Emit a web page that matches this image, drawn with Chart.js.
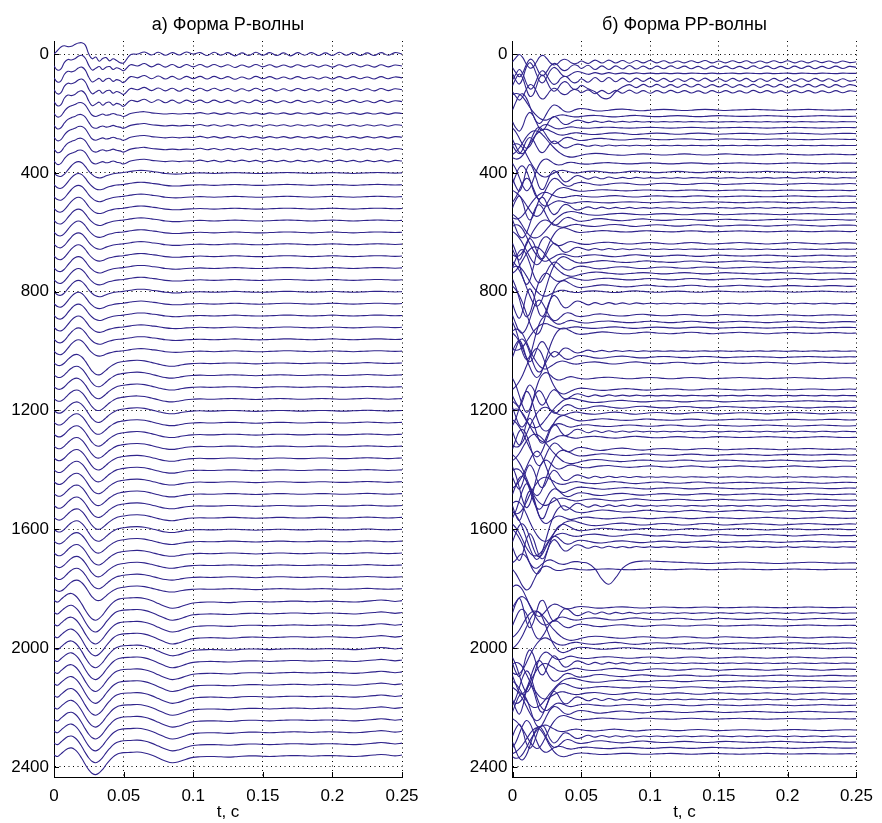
<!DOCTYPE html>
<html>
<head>
<meta charset="utf-8">
<script src="https://cdn.jsdelivr.net/npm/chart.js@4.4.0/dist/chart.umd.min.js"></script>
<style>
  body { margin: 0; background: #fff; }
  #wrap { position: relative; width: 882px; height: 823px; }
  .panel { position: absolute; top: 0; width: 441px; height: 823px; }
</style>
</head>
<body>
<div id="wrap">
  <div class="panel" style="left:0"><canvas id="pChart" width="441" height="823"></canvas></div>
  <div class="panel" style="left:441px"><canvas id="ppChart" width="441" height="823"></canvas></div>
</div>
<script>
// sample times, s
const timeSteps = [0, 0.0025, 0.005, 0.0075, 0.01, 0.0125, 0.015, 0.0175, 0.02, 0.0225, 0.025,
  0.0275, 0.03, 0.0325, 0.035, 0.0375, 0.04, 0.0425, 0.045, 0.0475, 0.05,
  0.055, 0.06, 0.065, 0.07, 0.075, 0.08, 0.085, 0.09, 0.095, 0.1,
  0.105, 0.11, 0.115, 0.12, 0.125, 0.13, 0.135, 0.14, 0.145, 0.15,
  0.155, 0.16, 0.165, 0.17, 0.175, 0.18, 0.185, 0.19, 0.195, 0.2,
  0.205, 0.21, 0.215, 0.22, 0.225, 0.23, 0.235, 0.24, 0.245, 0.25];

const xTickValues = [0, 0.05, 0.1, 0.15, 0.2, 0.25];
const xTickLabels = ['0', '0.05', '0.1', '0.15', '0.2', '0.25'];
const yTickValues = [0, 400, 800, 1200, 1600, 2000, 2400];
const yTickLabels = ['0', '400', '800', '1200', '1600', '2000', '2400'];

// а) P-wave: trace depths (m) and wave shapes (offset in m, + is down)
const pDepths = [0, 40, 80, 120, 160, 200, 240, 280, 320, 360, 400, 440, 480, 520, 560, 600,
  640, 680, 720, 760, 800, 840, 880, 920, 960, 1000, 1040, 1080, 1120, 1160, 1200,
  1240, 1280, 1320, 1360, 1400, 1440, 1480, 1520, 1560, 1600, 1640, 1680, 1720, 1760,
  1800, 1840, 1880, 1920, 1960, 2000, 2040, 2080, 2120, 2160, 2200, 2240, 2280, 2320, 2360];
const pShapeIdx = [0, 1, 1, 1, 1, 2, 2, 2, 2, 2, 3, 3, 3, 3, 3, 3, 3, 3, 3, 3, 3, 3, 3, 3, 3, 3,
  4, 4, 4, 4, 4, 4, 4, 4, 4, 4, 4, 4, 4, 4, 4, 4, 4, 4, 4, 4, 5, 5, 5, 5, 5, 5, 5, 5, 5, 5, 5, 5, 5, 5];

const pShape0 = [0, -12, -24, -28, -25, -26, -32, -37, -38, -30, 0, 16, 10, 24, 15, 12, 23, 16, 22, 29, 30,
  2, 0, -7, 3, -6, 4, -5, 3, -7, 0,
  -5, 5, -6, 4, -5, 6, -4, 5, -6, 4, -5, 5, -4, 6, -5, 4, -5, 5, -4, 5, -6, 4, -5, 5, -4, 5, -5, 4, -5, 0];
const pShape1 = [0, 14, 10, -12, -22, -20, -24, -33, -36, -26, -2, 14, 8, 2, 12, 4, 2, 12, 6, 10, 16,
  -4, 0, -8, 3, -6, 4, -5, 5, -5, 3,
  -5, 4, -5, 3, -4, 5, -3, 4, -5, 3, -4, 4, -3, 4, -4, 3, -3, 4, -3, 4, -4, 3, -4, 3, -3, 4, -4, 3, -3, 0];
const pShape2 = [0, 12, 8, -8, -20, -26, -30, -36, -36, -28, -10, 6, 10, 6, 2, 6, 4, 0, 4, 6, 10,
  0, -4, -6, -2, 0, 2, 0, 2, 0, 1,
  -3, 2, -2, 3, -2, 2, -3, 2, -2, 3, -2, 2, -2, 3, -2, 2, -2, 3, -2, 2, -3, 2, -2, 3, -2, 2, -2, 3, -2, 0];
const pShape3 = [0, 10, 12, 4, -10, -24, -34, -38, -34, -22, -6, 6, 14, 17, 15, 10, 6, 3, 1, 0, -1,
  -5, -8, -8, -5, -2, 2, 4, 4, 2, 1,
  0, 1, 2, 1, 0, -1, 0, 1, 2, 2, 1, 0, -1, -1, 0, 1, 2, 1, 0, -1, 0, 1, 2, 1, 0, -1, -1, 0, 1, 0];
const pShape4 = [0, 8, 8, 0, -12, -22, -28, -28, -20, -6, 12, 28, 38, 40, 34, 24, 14, 6, 0, -3, -5,
  -8, -9, -7, -2, 4, 9, 11, 8, 4, 2,
  1, 2, 2, 1, 0, 0, 1, 2, 3, 2, 1, 0, 0, 1, 2, 2, 1, 0, 0, 1, 2, 2, 1, 0, -1, 0, 1, 2, 1, 0];
const pShape5 = [0, 5, -4, -14, -22, -24, -18, -6, 12, 32, 50, 62, 66, 60, 48, 32, 18, 6, -2, -6, -8,
  -9, -10, -7, 0, 10, 20, 26, 22, 14, 8,
  6, 5, 5, 6, 7, 6, 4, 3, 3, 4, 5, 4, 3, 2, 2, 3, 4, 3, 2, 2, 3, 4, 5, 4, 2, 0, -2, 0, 3, 0];
const pShapes = [pShape0, pShape1, pShape2, pShape3, pShape4, pShape5];

// б) PP-wave: trace depths (m), shape used, signed gain
const ppDepths = [26, 45, 65, 87, 107, 127, 188, 209, 228, 248, 268, 287, 308, 338, 368, 397, 417,
  437, 459, 479, 499, 518, 539, 558, 577, 597, 637, 657, 679, 699, 719, 738, 758, 781, 800,
  840, 879, 902, 921, 939, 1000, 1020, 1040, 1091, 1129, 1150, 1169, 1189, 1209, 1231, 1251,
  1271, 1290, 1330, 1349, 1369, 1389, 1424, 1443, 1462, 1482, 1501, 1521, 1539, 1562, 1583,
  1600, 1620, 1642, 1660, 1713, 1735, 1863, 1882, 1902, 1924, 1964, 1984, 2001, 2032, 2051,
  2072, 2093, 2111, 2132, 2153, 2173, 2192, 2215, 2238, 2276, 2297, 2316, 2336, 2356];
const ppShapeIdx = [0, 0, 6, 0, 8, 0, 2, 3, 6, 1, 3, 2, 6, 4, 1, 3, 6, 2, 7, 3, 1, 6, 4, 2, 3, 7,
  1, 6, 3, 7, 2, 4, 1, 7, 3, 6, 2, 1, 3, 7, 6, 2, 3, 1, 7, 6, 4, 2, 3, 7, 1, 6, 3, 2, 7, 4, 1,
  6, 3, 7, 2, 3, 6, 7, 1, 4, 7, 3, 2, 6, 5, 1, 2, 6, 3, 2, 4, 3, 7, 1, 6, 3, 2, 4, 7, 3, 6, 1, 2, 7,
  3, 6, 2, 1, 7];
const ppGains = [0.7, -0.9, 0.8, 1.0, 1.0, -0.8, 0.9, -0.8, 0.7, 0.6, 0.9, -0.8, 0.6, -0.9, 0.8, -1.0,
  1.0, 1.0, 0.7, 0.8, -0.7, -0.9, 0.9, -1.0, 1.1, 0.9, 1.2, 0.8, -1.1, 1.2, 1.0, -1.0, 1.1, 1.3, -0.9,
  1.1, -1.0, 1.1, 0.8, 1.2, -0.8, 1.0, -1.2, 1.0, -1.1, 0.8, 1.0, -1.1, 1.2, 1.0, -1.0, 1.0, -1.0,
  1.1, 1.1, -1.0, 1.2, 0.9, 1.1, -1.0, 1.0, -1.1, 1.1, 1.3, -1.0, 1.2, 1.2, -1.2, 1.0, 1.0, 1.0, 0.6,
  0.6, -1.1, -1.2, 0.9, -1.0, 1.1, -1.0, 1.0, 1.0, 1.2, -1.0, 1.0, 0.9, -1.1, 1.1, -1.0, 1.0, 0.8,
  1.0, -0.9, -1.0, -0.8, -0.7];

const ppShape0 = [0, -20, -35, -20, 10, 30, 25, 0, -25, -30, -15, 5, 15, 10, -5, -12, -8, 4, 10, 6, -4,
  8, -8, 6, -8, 6, -6, 7, -6, 5, -6,
  5, -5, 6, -4, 5, -5, 4, -6, 5, -4, 5, -5, 4, -5, 6, -4, 5, -5, 4, -5, 5, -4, 5, -5, 4, -4, 5, -4, 4, 0];
const ppShape1 = [0, 25, 60, 95, 115, 105, 70, 30, 0, -15, -18, -10, 0, 6, 6, 2, -3, -5, -3, 0, 2,
  3, 0, -2, -3, -1, 1, 2, 1, -1, -2,
  -1, 1, 2, 1, -1, -2, -1, 1, 2, 1, 0, -1, -2, -1, 0, 1, 2, 1, 0, -1, -2, -1, 0, 1, 2, 1, 0, -1, -1, 0];
const ppShape2 = [0, -30, -55, -60, -45, -15, 20, 45, 50, 35, 12, -8, -18, -16, -6, 4, 8, 6, 0, -4, -5,
  -2, 3, 4, 1, -2, -3, -1, 2, 3, 1,
  -1, -2, -1, 1, 2, 1, -1, -2, -1, 1, 2, 1, 0, -1, -2, -1, 0, 1, 2, 1, 0, -1, -2, -1, 0, 1, 1, 0, -1, 0];
const ppShape3 = [90, 95, 92, 80, 60, 38, 18, 2, -10, -16, -16, -10, -4, 2, 5, 5, 2, -1, -3, -3, -1,
  2, 3, 1, -2, -3, -1, 2, 3, 1, -1,
  -2, -1, 1, 2, 1, -1, -2, -1, 1, 2, 1, 0, -1, -1, 0, 1, 2, 1, 0, -1, -2, -1, 0, 1, 2, 1, 0, -1, -1, 0];
const ppShape4 = [0, 10, 25, 45, 65, 80, 88, 88, 82, 70, 55, 40, 26, 14, 4, -4, -8, -10, -9, -6, -3,
  2, 4, 3, 0, -2, -3, -1, 1, 2, 1,
  -1, -2, -1, 1, 2, 1, -1, -2, -1, 1, 2, 1, 0, -1, -2, -1, 0, 1, 2, 1, 0, -1, -2, -1, 0, 1, 1, 0, -1, 0];
const ppShape5 = [0, -10, -25, -30, -20, 0, 15, 18, 10, 0, -8, -10, -6, 0, 4, 5, 2, -2, -4, -4, -2,
  2, 20, 55, 72, 50, 18, 2, -4, -6, -6,
  -5, -4, -3, -2, -1, 0, 1, 2, 2, 1, 0, -1, -2, -2, -1, 0, 1, 2, 2, 1, 0, -1, -2, -2, -1, 0, 1, 1, 0, 0];
const ppShape6 = [0, 30, 45, 20, -25, -45, -30, 5, 35, 38, 15, -12, -25, -18, 0, 12, 12, 4, -5, -8, -5,
  4, -3, 3, -3, 2, -2, 2, -2, 1, -1,
  1, -1, 1, -1, 1, -1, 0, 1, -1, 1, 0, -1, 1, -1, 0, 1, -1, 1, 0, -1, 1, -1, 0, 1, -1, 0, 1, -1, 0, 0];
const ppShape7 = [0, 10, 25, 45, 70, 95, 115, 125, 118, 95, 65, 35, 12, -4, -12, -14, -10, -5, 0, 3, 4,
  2, -1, -3, -2, 0, 2, 2, 0, -2, -2,
  0, 1, 2, 1, -1, -2, -1, 1, 2, 1, 0, -1, -2, -1, 0, 1, 2, 1, 0, -1, -1, 0, 1, 1, 0, -1, -1, 0, 1, 0];
const ppShape8 = [0, -25, -40, -25, 10, 35, 30, 0, -30, -35, -15, 8, 18, 12, -5, -14, -10, 4, 12, 8, -2,
  10, 20, 40, 42, 20, 4, -4, 6, -5, 4,
  -5, 5, -4, 5, -5, 4, -5, 5, -4, 4, -5, 5, -4, 4, -5, 5, -4, 4, -5, 5, -4, 4, -5, 4, -4, 5, -4, 4, -4, 0];
const ppShapes = [ppShape0, ppShape1, ppShape2, ppShape3, ppShape4, ppShape5, ppShape6, ppShape7, ppShape8];

const lineColor = 'rgb(48, 36, 140)';
const fontFamily = '"Liberation Sans", Arial, sans-serif';

// one dataset per trace: depth + gain * shape
function buildTraces(depths, shapeIdx, gains, shapes) {
  return depths.map((d, k) => {
    const shape = shapes[shapeIdx[k]];
    const g = gains ? gains[k] : 1;
    return {
      data: timeSteps.map((t, i) => ({ x: t, y: d + g * shape[i] })),
      borderColor: lineColor,
      borderWidth: 1.1,
      pointRadius: 0,
      tension: 0.4,
      fill: false
    };
  });
}

// matlab style tick marks pointing into the plot
const innerTicks = {
  id: 'innerTicks',
  afterDraw(chart) {
    const { ctx, chartArea: a, scales: { x, y } } = chart;
    ctx.save();
    ctx.strokeStyle = '#000';
    ctx.lineWidth = 1;
    ctx.beginPath();
    xTickValues.forEach(v => {
      const px = Math.round(x.getPixelForValue(v)) + 0.5;
      ctx.moveTo(px, a.bottom);
      ctx.lineTo(px, a.bottom - 5);
    });
    yTickValues.forEach(v => {
      const py = Math.round(y.getPixelForValue(v)) + 0.5;
      ctx.moveTo(a.left, py);
      ctx.lineTo(a.left + 5, py);
    });
    ctx.stroke();
    ctx.restore();
  }
};

function makeOptions(title, padLeft, padRight) {
  const tickFont = { family: fontFamily, size: 17 };
  return {
    responsive: false,
    animation: false,
    devicePixelRatio: 1,
    layout: { padding: { left: padLeft, right: padRight, top: 0, bottom: 0 } },
    plugins: {
      legend: { display: false },
      tooltip: { enabled: false },
      title: {
        display: true, text: title, fullSize: false, color: '#000',
        font: { family: fontFamily, size: 18, weight: 'normal' },
        padding: { top: 14.2, bottom: 5.2 }
      }
    },
    scales: {
      x: {
        type: 'linear', min: 0, max: 0.25,
        afterBuildTicks: s => { s.ticks = xTickValues.map(v => ({ value: v })); },
        afterFit: s => { s.height = 46; },
        ticks: {
          color: '#000', font: tickFont, padding: 9, maxRotation: 0, autoSkip: false,
          callback: v => xTickLabels[xTickValues.indexOf(v)]
        },
        grid: { color: '#000', lineWidth: 1, drawTicks: false },
        border: { display: true, color: '#000', width: 1, dash: [1, 3.5] },
        title: { display: true, text: 't, c', color: '#000', font: tickFont, padding: { top: 0, bottom: 0 } }
      },
      y: {
        type: 'linear', reverse: true, min: -44, max: 2434,
        afterBuildTicks: s => { s.ticks = yTickValues.map(v => ({ value: v })); },
        afterFit: s => { s.width = 44; },
        ticks: {
          color: '#000', font: tickFont, padding: 5, autoSkip: false,
          callback: v => yTickLabels[yTickValues.indexOf(v)]
        },
        grid: { color: '#000', lineWidth: 1, drawTicks: false },
        border: { display: true, color: '#000', width: 1, dash: [1, 3.5] }
      }
    }
  };
}

new Chart(document.getElementById('pChart'), {
  type: 'line',
  data: { datasets: buildTraces(pDepths, pShapeIdx, null, pShapes) },
  options: makeOptions('а) Форма Р-волны', 10, 39),
  plugins: [innerTicks]
});

new Chart(document.getElementById('ppChart'), {
  type: 'line',
  data: { datasets: buildTraces(ppDepths, ppShapeIdx, ppGains, ppShapes) },
  options: makeOptions('б) Форма РР-волны', 27.5, 20),
  plugins: [innerTicks]
});
</script>
</body>
</html>
